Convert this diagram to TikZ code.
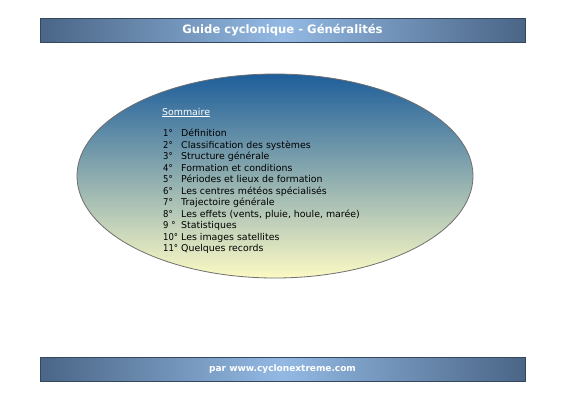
\documentclass[tikz,border=0pt]{standalone}
\usepackage{fontspec}
\setmainfont{DejaVu Sans}
\newfontfamily\numfont{DejaVu Sans Condensed}
\usepackage{xcolor}
\usetikzlibrary{shapes.geometric}

\definecolor{barDark}{HTML}{4A6586}
\definecolor{barLight}{HTML}{93B9E3}
\definecolor{ovalTop}{HTML}{1E5E9A}
\definecolor{ovalBottom}{HTML}{FCFAC4}
\definecolor{ovalLine}{HTML}{6E6E6E}

\begin{document}
\begin{tikzpicture}[
    x=1pt,y=-1pt,
    bar/.style={rectangle,minimum width=485pt,minimum height=24pt,inner sep=0pt,left color=barDark,right color=barDark,middle color=barLight,draw=barDark!70!black,line width=0.6pt},
    bartext/.style={text=white,inner sep=0pt},
    oval/.style={ellipse,minimum width=396pt,minimum height=204pt,inner sep=0pt,top color=ovalTop,bottom color=ovalBottom,draw=ovalLine,line width=0.8pt},
    entry/.style={anchor=base west,inner sep=0pt,font=\fontsize{9.4}{11}\selectfont,text=black}
]

\path[fill=white,use as bounding box] (0,0) rectangle (566,400);

\node[bar] (titlebar) at (282.5,30) {};
\node[bartext,font=\fontsize{11.6}{13}\selectfont\bfseries] (title) at (titlebar) {Guide cyclonique - Généralités};

\node[oval] (sommaire) at (275,176) {};
\node[entry,text=white] (head) at (162,115) {\underline{Sommaire}};

\foreach \n/\t [count=\i] in {1°/Définition,2°/Classification des systèmes,3°/Structure générale,4°/Formation et conditions,5°/Périodes et lieux de formation,6°/Les centres météos spécialisés,7°/Trajectoire générale,8°/{Les effets (vents, pluie, houle, marée)},9 °/Statistiques,10°/Les images satellites,11°/Quelques records}{
    \node[entry] (num\i) at (163,{136.5+11.5*(\i-1)}) {\numfont\n};
    \node[entry] (item\i) at (181,{136.5+11.5*(\i-1)}) {\t};
}

\node[bar] (footbar) at (282.5,369) {};
\node[bartext,font=\fontsize{9}{11}\selectfont\bfseries] (credit) at (footbar) {par www.cyclonextreme.com};

\end{tikzpicture}
\end{document}
